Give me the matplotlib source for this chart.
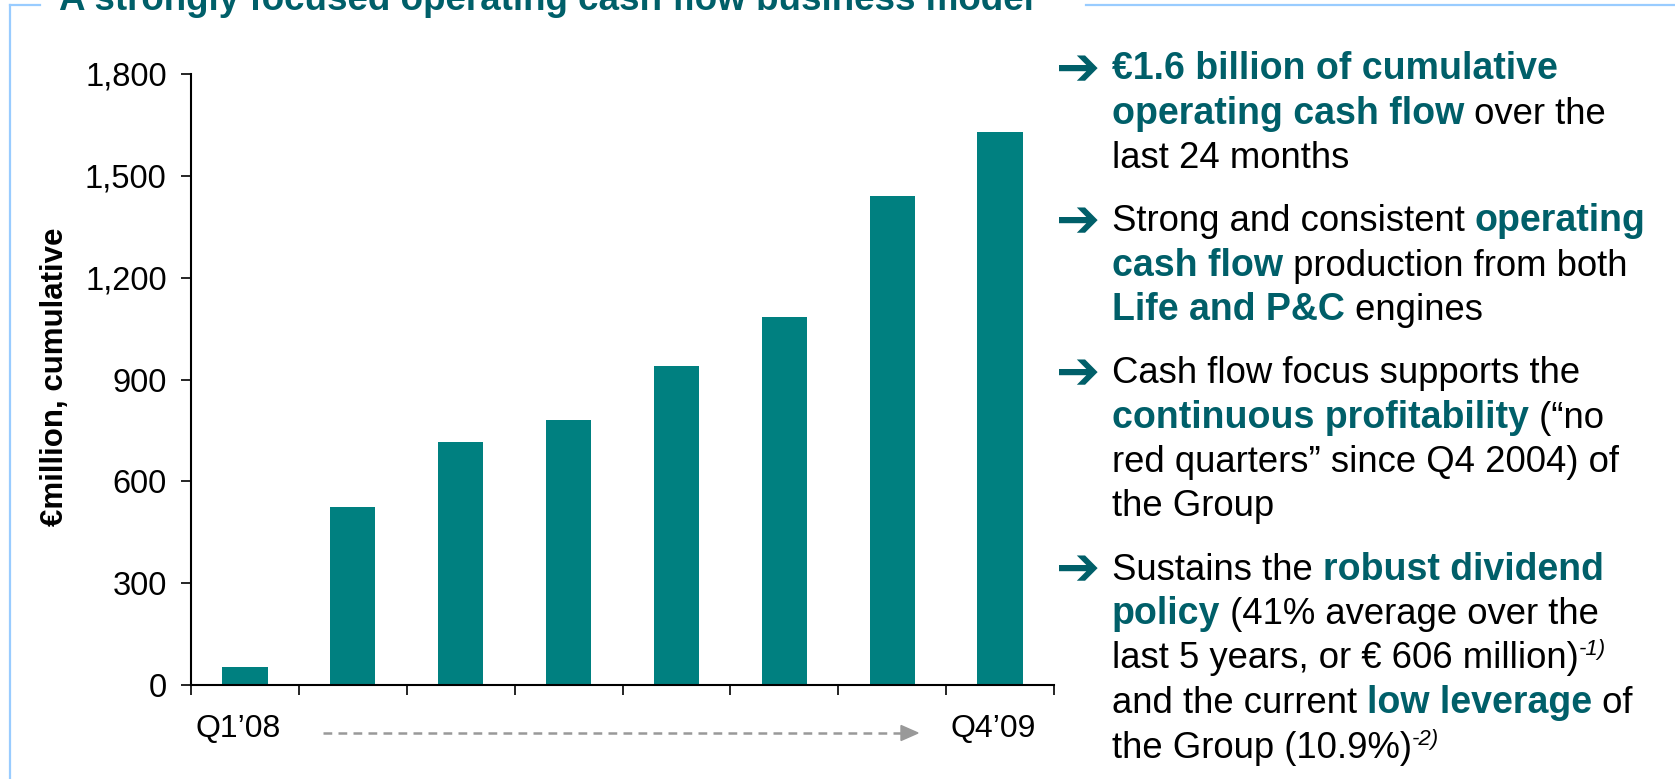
import numpy as np
import matplotlib.pyplot as plt
import matplotlib.transforms as mtransforms
from matplotlib.lines import Line2D
from matplotlib.patches import Polygon

# data
quarters = ["Q1\u201908", "Q2\u201908", "Q3\u201908", "Q4\u201908",
            "Q1\u201909", "Q2\u201909", "Q3\u201909", "Q4\u201909"]
cash_flow = [53, 525, 715, 780, 940, 1085, 1440, 1630]
y_ticks = [0, 300, 600, 900, 1200, 1500, 1800]
shown_labels = ["Q1\u201908", "", "", "", "", "", "", "Q4\u201909"]

title = "A strongly focused operating cash flow business model"
y_label = "\u20acmillion, cumulative"

# bullet text: each line is a list of (text, kind) pieces
bullets = [
    [[("\u20ac1.6 billion of cumulative", "hl")],
     [("operating cash flow", "hl"), (" over the", "norm")],
     [("last 24 months", "norm")]],
    [[("Strong and consistent ", "norm"), ("operating", "hl")],
     [("cash flow", "hl"), (" production from both", "norm")],
     [("Life and P&C", "hl"), (" engines", "norm")]],
    [[("Cash flow focus supports the", "norm")],
     [("continuous profitability", "hl"), (" (\u201cno", "norm")],
     [("red quarters\u201d since Q4 2004) of", "norm")],
     [("the Group", "norm")]],
    [[("Sustains the ", "norm"), ("robust dividend", "hl")],
     [("policy", "hl"), (" (41% average over the", "norm")],
     [("last 5 years, or \u20ac 606 million)", "norm"), ("-1)", "sup")],
     [("and the current ", "norm"), ("low leverage", "hl"), (" of", "norm")],
     [("the Group (10.9%)", "norm"), ("-2)", "sup")]],
]

W, H = 1675, 779
teal = "#008080"
dark_teal = "#005F69"
plt.rcParams['font.family'] = ['Liberation Sans', 'DejaVu Sans']

fig = plt.figure(figsize=(W / 100, H / 100), dpi=100)
ax = fig.add_axes([191 / W, 1 - 685 / H, (1054 - 191) / W, (685 - 74) / H])

x = np.arange(len(quarters))
ax.bar(x, cash_flow, width=0.42, color=teal)
ax.set_xlim(-0.5, len(quarters) - 0.5)
ax.set_ylim(0, 1800)
ax.set_yticks(y_ticks)
ax.set_yticklabels([f"{v:,}" for v in y_ticks])
ax.set_xticks(x)
ax.set_xticklabels(shown_labels)
ax.set_xticks(np.arange(len(quarters) + 1) - 0.5, minor=True)
ax.tick_params(axis='x', which='major', length=0, pad=21, labelsize=23)
ax.tick_params(axis='x', which='minor', length=7.5, width=1.2, direction='out')
ax.tick_params(axis='y', length=7.5, width=1.2, pad=10, labelsize=23.5)
for side in ['top', 'right']:
    ax.spines[side].set_visible(False)
for side in ['left', 'bottom']:
    ax.spines[side].set_linewidth(1.5)

# quarter labels sit a little left of the bar centres
shift = mtransforms.ScaledTranslation(-7 / 100, 0, fig.dpi_scale_trans)
for lab in ax.get_xticklabels():
    lab.set_transform(lab.get_transform() + shift)

fig.text(55 / W, 1 - 377 / H, y_label, rotation=90, ha='center', va='center',
         fontsize=22.5, fontweight='bold')

# title, cut off at the top like the slide
fig.text(59 / W, 1 - 10 / H, title, fontsize=26.5, fontweight='bold',
         color=dark_teal, va='baseline', ha='left')

# light blue frame
frame = dict(color='#99CCFF', lw=1.6, transform=fig.transFigure)
fig.add_artist(Line2D([10 / W, 10 / W], [1 - 5 / H, 0], **frame))
fig.add_artist(Line2D([10 / W, 40 / W], [1 - 5 / H, 1 - 5 / H], **frame))
fig.add_artist(Line2D([1086 / W, 1], [1 - 5 / H, 1 - 5 / H], **frame))

# grey dashed time arrow under the axis
ya = 1 - 733 / H
fig.add_artist(Line2D([323 / W, 903 / W], [ya, ya], color='#999999', lw=1.8,
                      dashes=(3.5, 2.5), transform=fig.transFigure))
fig.add_artist(Polygon([[901 / W, ya + 7.5 / H], [918 / W, ya], [901 / W, ya - 7.5 / H]],
                       closed=True, color='#999999', transform=fig.transFigure))

# right hand bullet text
styles = {
    "norm": dict(fontsize=26.3, color='black'),
    "hl": dict(fontsize=27, color=dark_teal, fontweight='bold'),
    "sup": dict(fontsize=16, color='black', style='italic'),
}
renderer = fig.canvas.get_renderer()


def text_width(s, st):
    # measure with a sentinel so trailing spaces count
    t1 = fig.text(0, 0, s + "|", **st)
    t2 = fig.text(0, 0, "|", **st)
    w = t1.get_window_extent(renderer).width - t2.get_window_extent(renderer).width
    t1.remove()
    t2.remove()
    return w


pitch = 44.5
gap = 63
yb = 79
for lines in bullets:
    fig.text(1056 / W, 1 - (yb + 6) / H, "\u2794", fontsize=38,
             family='DejaVu Sans', color=dark_teal, va='baseline')
    for i, line in enumerate(lines):
        xp = 1112
        for s, kind in line:
            st = styles[kind]
            raise_px = 13 if kind == "sup" else 0
            fig.text(xp / W, 1 - (yb - raise_px) / H, s, va='baseline', ha='left', **st)
            xp += text_width(s, st)
        if i < len(lines) - 1:
            yb += pitch
    yb += gap

fig.savefig("out.png", dpi=100)
